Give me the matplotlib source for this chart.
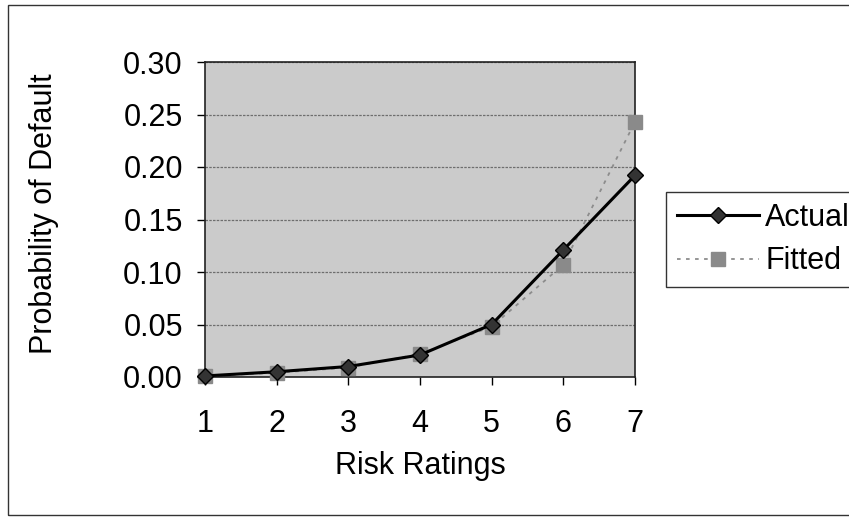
import matplotlib.pyplot as plt
from matplotlib.lines import Line2D
from matplotlib.patches import Rectangle

# chart data
ratings = [1, 2, 3, 4, 5, 6, 7]
actual = [0.001, 0.005, 0.010, 0.021, 0.050, 0.121, 0.192]
fitted = [0.001, 0.004, 0.009, 0.022, 0.048, 0.107, 0.243]
yticks = [0.00, 0.05, 0.10, 0.15, 0.20, 0.25, 0.30]

plt.rcParams["font.family"] = ["Liberation Sans", "DejaVu Sans"]

fig = plt.figure(figsize=(8.49, 5.17), dpi=100)
ax = fig.add_axes([205 / 849, 1 - 377 / 517, 430 / 849, 315 / 517])

ax.set_facecolor("#cbcbcb")
for t in yticks[1:]:
    ax.axhline(t, color="#6e6e6e", lw=0.9, ls=(0, (2, 1)), zorder=1)

ax.plot(ratings, fitted, color="#8c8c8c", lw=1.3, ls=(0, (2, 3)),
        marker="s", ms=10, mfc="#8a8a8a", mec="#8a8a8a", zorder=3, clip_on=False)
ax.plot(ratings, actual, color="black", lw=2.2,
        marker="D", ms=8, mfc="#333333", mec="black", zorder=4, clip_on=False)

ax.set_xlim(1, 7)
ax.set_ylim(0, 0.30)
ax.set_xticks(ratings)
ax.set_yticks(yticks)
ax.set_yticklabels(["%.2f" % t for t in yticks])
ax.tick_params(labelsize=22, length=6, width=1, direction="out", pad=10)
ax.tick_params(axis="x", pad=17)
for s in ax.spines.values():
    s.set_linewidth(1.2)
    s.set_color("#222222")

ax.set_xlabel("Risk Ratings", fontsize=22)
ax.xaxis.set_label_coords(0.5, -0.235)
ax.set_ylabel("Probability of Default", fontsize=22)
ax.yaxis.set_label_coords(-0.34, 0.52)

handles = [
    Line2D([], [], color="black", lw=2.2, marker="D", ms=8, mfc="#333333", mec="black"),
    Line2D([], [], color="#8c8c8c", lw=1.3, ls=(0, (2, 3)), marker="s", ms=10,
           mfc="#8a8a8a", mec="#8a8a8a"),
]
leg = fig.legend(handles, ["Actual", "Fitted"], loc="upper left",
                 bbox_to_anchor=(666 / 849, 1 - 192 / 517), fontsize=22,
                 frameon=True, fancybox=False, edgecolor="black",
                 handlelength=2.7, handletextpad=0.2, borderpad=0.35,
                 labelspacing=0.45, borderaxespad=0)
leg.get_frame().set_linewidth(1)

# outer chart border
fig.patches.append(Rectangle((8 / 849, 2 / 517), 860 / 849, 510 / 517,
                             transform=fig.transFigure, fill=False,
                             edgecolor="#333333", lw=1))

fig.savefig("out.png", dpi=100)
